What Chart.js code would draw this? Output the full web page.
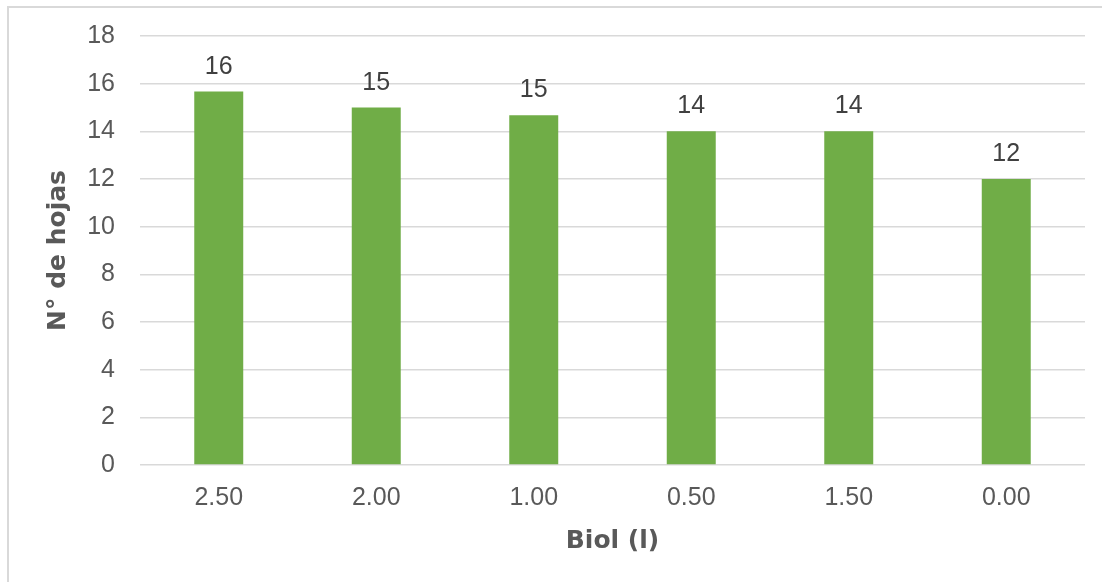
<!DOCTYPE html>
<html>
<head>
<meta charset="utf-8">
<script src="https://cdn.jsdelivr.net/npm/chart.js"></script>
<style>
  body { margin: 0; background: #fff; overflow: hidden; }
  #frame { position: absolute; left: 7px; top: 6px; width: 1200px; height: 700px; border: 2px solid #d9d9d9; }
  #chart { position: absolute; left: 0; top: 0; }
</style>
</head>
<body>
<div id="frame"></div>
<canvas id="chart" width="1102" height="582"></canvas>
<script>
const biolLevels = ['2.50', '2.00', '1.00', '0.50', '1.50', '0.00'];
const leafCounts = [15.67, 15, 14.67, 14, 14, 12];
const yTicks = [0, 2, 4, 6, 8, 10, 12, 14, 16, 18];

const BAR_GREEN = '#70ad47';
const GRID_GREY = '#d9d9d9';
const TEXT_GREY = '#595959';

// draws the rounded value above each bar
const barValueLabels = {
  id: 'barValueLabels',
  afterDatasetsDraw(chart) {
    const ctx = chart.ctx;
    const meta = chart.getDatasetMeta(0);
    ctx.save();
    ctx.font = '25px "Liberation Sans", Arial, sans-serif';
    ctx.fillStyle = '#404040';
    ctx.textAlign = 'center';
    ctx.textBaseline = 'alphabetic';
    meta.data.forEach((bar, i) => {
      const value = chart.data.datasets[0].data[i];
      ctx.fillText(String(Math.round(value)), bar.x, bar.y - 18);
    });
    ctx.restore();
  }
};

new Chart(document.getElementById('chart'), {
  type: 'bar',
  plugins: [barValueLabels],
  data: {
    labels: biolLevels,
    datasets: [{
      data: leafCounts,
      backgroundColor: BAR_GREEN,
      barPercentage: 1,
      categoryPercentage: 0.311
    }]
  },
  options: {
    responsive: false,
    animation: false,
    layout: { padding: { top: 36, right: 17, bottom: 26, left: 43 } },
    plugins: {
      legend: { display: false },
      tooltip: { enabled: false }
    },
    scales: {
      x: {
        afterFit(scale) { scale.height = 91; },
        grid: { display: false, drawTicks: false },
        border: { display: false },
        ticks: {
          padding: 18,
          color: TEXT_GREY,
          font: { family: '"Liberation Sans", Arial, sans-serif', size: 25 }
        },
        title: {
          display: true,
          text: 'Biol (l)',
          color: TEXT_GREY,
          padding: 0,
          font: { family: '"DejaVu Sans", sans-serif', size: 25, weight: 'bold' }
        }
      },
      y: {
        min: 0,
        max: 18,
        afterFit(scale) {
          scale.width = 97;
          // keep the tick label padding from pushing the plot area down
          scale.paddingTop = 0;
          scale.paddingBottom = 0;
        },
        afterBuildTicks(scale) { scale.ticks = yTicks.map(v => ({ value: v })); },
        grid: { color: GRID_GREY, lineWidth: 1.5, drawTicks: false },
        border: { display: false },
        ticks: {
          padding: 25,
          color: TEXT_GREY,
          font: { family: '"Liberation Sans", Arial, sans-serif', size: 25 }
        },
        title: {
          display: true,
          text: 'N° de hojas',
          color: TEXT_GREY,
          padding: 0,
          font: { family: '"DejaVu Sans", sans-serif', size: 25, weight: 'bold' }
        }
      }
    }
  }
});
</script>
</body>
</html>
